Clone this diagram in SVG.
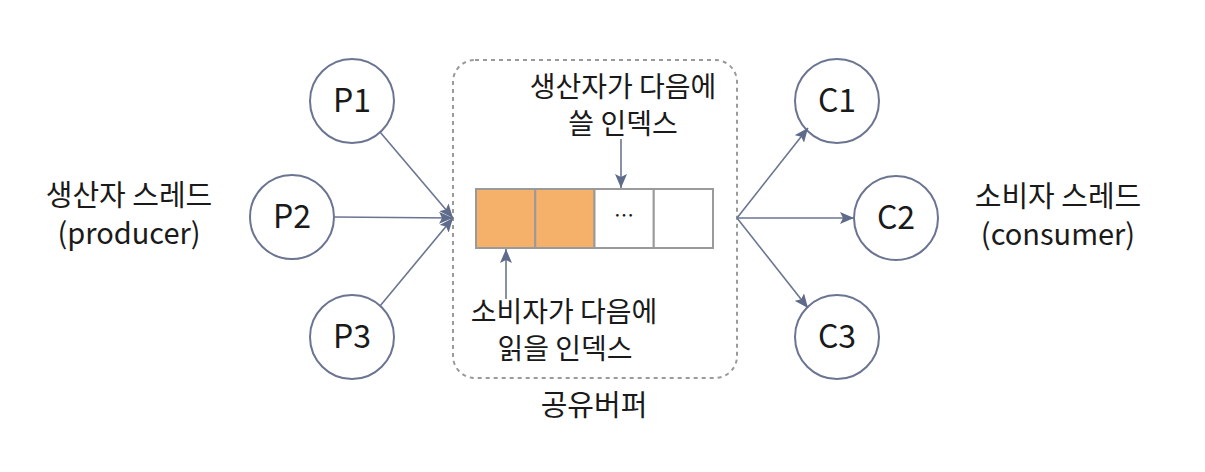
<svg xmlns="http://www.w3.org/2000/svg" width="1205" height="472" viewBox="0 0 1205 472">
<defs>
<style>
.node{fill:#fff;stroke:#6b7592;stroke-width:2}
.lbl{font-family:"Noto Sans CJK KR","Noto Sans",sans-serif;fill:#1a1a1a;text-anchor:middle}
.nl{font-size:32px}
.t{font-size:29px}
.s{font-size:28px}
.edge{stroke:#6b7592;stroke-width:1.6;fill:none;marker-end:url(#ah)}
.cell{stroke:#9a9a9a;stroke-width:2}
</style>
<marker id="ah" viewBox="0 0 14 12" refX="14" refY="6" markerWidth="14" markerHeight="12" markerUnits="userSpaceOnUse" orient="auto">
<path d="M0,0 L14,6 L0,12 L3,6 z" fill="#5f6b8a"/>
</marker>
</defs>
<rect width="1205" height="472" fill="#fff"/>

<g id="buffer">
<rect x="453" y="60" width="284" height="318" rx="22" ry="22" fill="none" stroke="#9a9a9a" stroke-width="2" stroke-dasharray="4 4"/>
<rect class="cell" x="476" y="189" width="59.25" height="59" fill="#f5b06a"/>
<rect class="cell" x="535.25" y="189" width="59.25" height="59" fill="#f5b06a"/>
<rect class="cell" x="594.5" y="189" width="59.25" height="59" fill="#fff"/>
<rect class="cell" x="653.75" y="189" width="59.25" height="59" fill="#fff"/>
<text class="lbl" x="624" y="223" font-size="20px">…</text>
<text class="lbl s" x="623" y="97">생산자가 다음에<tspan x="623" dy="37">쓸 인덱스</tspan></text>
<text class="lbl s" x="564" y="322">소비자가 다음에<tspan x="565" dy="37">읽을 인덱스</tspan></text>
<text class="lbl t" x="594" y="416">공유버퍼</text>
</g>

<g id="P1"><circle class="node" cx="352" cy="101" r="42"/><text class="lbl nl" x="352" y="112">P1</text></g>
<g id="P2"><circle class="node" cx="292" cy="217" r="42"/><text class="lbl nl" x="292" y="228">P2</text></g>
<g id="P3"><circle class="node" cx="352" cy="337" r="42"/><text class="lbl nl" x="352" y="348">P3</text></g>
<g id="C1"><circle class="node" cx="837" cy="101" r="42"/><text class="lbl nl" x="837" y="112">C1</text></g>
<g id="C2"><circle class="node" cx="896" cy="218" r="42"/><text class="lbl nl" x="896" y="229">C2</text></g>
<g id="C3"><circle class="node" cx="837" cy="337" r="42"/><text class="lbl nl" x="837" y="348">C3</text></g>

<g id="producer-label">
<text class="lbl t" x="129" y="206">생산자 스레드<tspan x="129" dy="38">(producer)</tspan></text>
</g>
<g id="consumer-label">
<text class="lbl t" x="1058" y="207">소비자 스레드<tspan x="1058" dy="38">(consumer)</tspan></text>
</g>

<g id="connectors">
<line class="edge" x1="380" y1="132" x2="453" y2="218"/>
<line class="edge" x1="334" y1="217" x2="453" y2="218"/>
<line class="edge" x1="380" y1="306" x2="453" y2="218"/>
<line class="edge" x1="737" y1="218" x2="808" y2="128"/>
<line class="edge" x1="737" y1="218" x2="854" y2="218"/>
<line class="edge" x1="737" y1="218" x2="808" y2="308"/>
<line class="edge" x1="621" y1="139" x2="621" y2="188"/>
<line class="edge" x1="506" y1="299" x2="506" y2="249"/>
</g>
</svg>
